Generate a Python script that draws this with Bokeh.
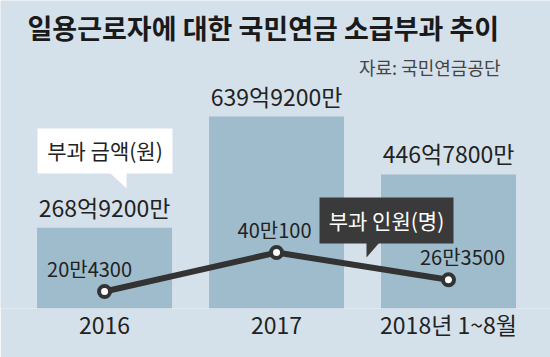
from bokeh.plotting import figure
from bokeh.models import (ColumnDataSource, Range1d, FixedTicker, Label,
                          BoxAnnotation, PolyAnnotation)
from bokeh.core.properties import value
from bokeh.embed import file_html
from bokeh.resources import INLINE

# ---- data ----
categories = ["2016", "2017", "2018년 1~8월"]
amount_eok = [268.92, 639.92, 446.78]          # 부과 금액 (억원)
amount_labels = ["268억9200만", "639억9200만", "446억7800만"]
people_man = [20.43, 40.01, 26.35]             # 부과 인원 (만명)
people_labels = ["20만4300", "40만100", "26만3500"]
title_text = "일용근로자에 대한 국민연금 소급부과 추이"
source_text = "자료: 국민연금공단"
amount_legend = "부과 금액(원)"
people_legend = "부과 인원(명)"

# ---- style ----
W, H = 550, 357
FONT = "Noto Sans CJK KR"
BG = "#d5e1ea"
BAR = "#9ebccb"
DARK = "#333333"
TXT = "#222222"
people_dx = [-15, -2, 14]   # label nudges (px)

idx = list(range(len(categories)))
src = ColumnDataSource(dict(x=idx, amount=amount_eok, amount_label=amount_labels,
                            people=people_man, people_label=people_labels,
                            dx=people_dx))

p = figure(width=W, height=H, output_backend="svg", toolbar_location=None,
           x_range=Range1d(-0.605, 2.593), y_range=Range1d(0, 1026.7),
           y_axis_location=None,
           min_border_left=0, min_border_right=0, min_border_top=0,
           min_border_bottom=49,
           background_fill_color=BG, border_fill_color=BG,
           outline_line_color=None)
p.grid.visible = False
p.extra_y_ranges = {"people": Range1d(11.9, 166.7)}

p.vbar(x="x", top="amount", bottom=0, width=0.785, source=src,
       fill_color=BAR, line_color=None)
p.text(x="x", y="amount", text="amount_label", source=src,
       text_align="center", text_baseline="alphabetic", y_offset=-21,
       text_font=value(FONT), text_font_size="23px", text_color=TXT)

p.line(x="x", y="people", source=src, y_range_name="people",
       line_width=6, line_color=DARK, line_join="round")
p.scatter(x="x", y="people", source=src, y_range_name="people",
          size=11, fill_color="white", line_color=DARK, line_width=4)
p.text(x="x", y="people", text="people_label", source=src,
       y_range_name="people", x_offset="dx", y_offset=-23,
       text_align="center", text_baseline="alphabetic",
       text_font=value(FONT), text_font_size="20px", text_color=TXT)

ax = p.xaxis[0]
ax.ticker = FixedTicker(ticks=idx)
ax.major_label_overrides = {i: c for i, c in enumerate(categories)}
ax.axis_line_color = None
ax.major_tick_line_color = None
ax.minor_tick_line_color = None
ax.major_label_standoff = -8
ax.major_label_text_font = FONT
ax.major_label_text_font_size = "23px"
ax.major_label_text_color = TXT

FB = 308  # frame bottom in canvas px (screen units measured upward from it)

p.add_layout(Label(x=27, y=FB - 27, x_units="screen", y_units="screen",
                   text=title_text, text_font=FONT, text_font_style="bold",
                   text_font_size="27px", text_color="#1a1a1a",
                   text_baseline="alphabetic"))
p.add_layout(Label(x=500, y=FB - 66, x_units="screen", y_units="screen",
                   text=source_text, text_font=FONT, text_font_size="18px",
                   text_color="#444444", text_align="right",
                   text_baseline="alphabetic"))

# white callout: 부과 금액(원)
p.add_layout(BoxAnnotation(left=37, right=172, top=FB - 128, bottom=FB - 173,
                           left_units="screen", right_units="screen",
                           top_units="screen", bottom_units="screen",
                           fill_color="white", fill_alpha=1, line_color=None))
p.add_layout(PolyAnnotation(xs=[109, 126, 126], ys=[FB - 172, FB - 172, FB - 188],
                            xs_units="screen", ys_units="screen",
                            fill_color="white", fill_alpha=1, line_color=None))
p.add_layout(Label(x=104.5, y=FB - 149, x_units="screen", y_units="screen",
                   text=amount_legend, text_font=FONT, text_font_size="21px",
                   text_color=TXT, text_align="center",
                   text_baseline="alphabetic"))

# dark callout: 부과 인원(명)
p.add_layout(BoxAnnotation(left=319, right=453, top=FB - 197, bottom=FB - 243,
                           left_units="screen", right_units="screen",
                           top_units="screen", bottom_units="screen",
                           fill_color="#3a3a3a", fill_alpha=1, line_color=None))
p.add_layout(PolyAnnotation(xs=[366, 379, 366], ys=[FB - 242, FB - 242, FB - 257],
                            xs_units="screen", ys_units="screen",
                            fill_color="#3a3a3a", fill_alpha=1, line_color=None))
p.add_layout(Label(x=386, y=FB - 219, x_units="screen", y_units="screen",
                   text=people_legend, text_font=FONT, text_font_size="21px",
                   text_color="white", text_align="center",
                   text_baseline="alphabetic"))

open("out.html", "w").write(file_html(p, INLINE))
